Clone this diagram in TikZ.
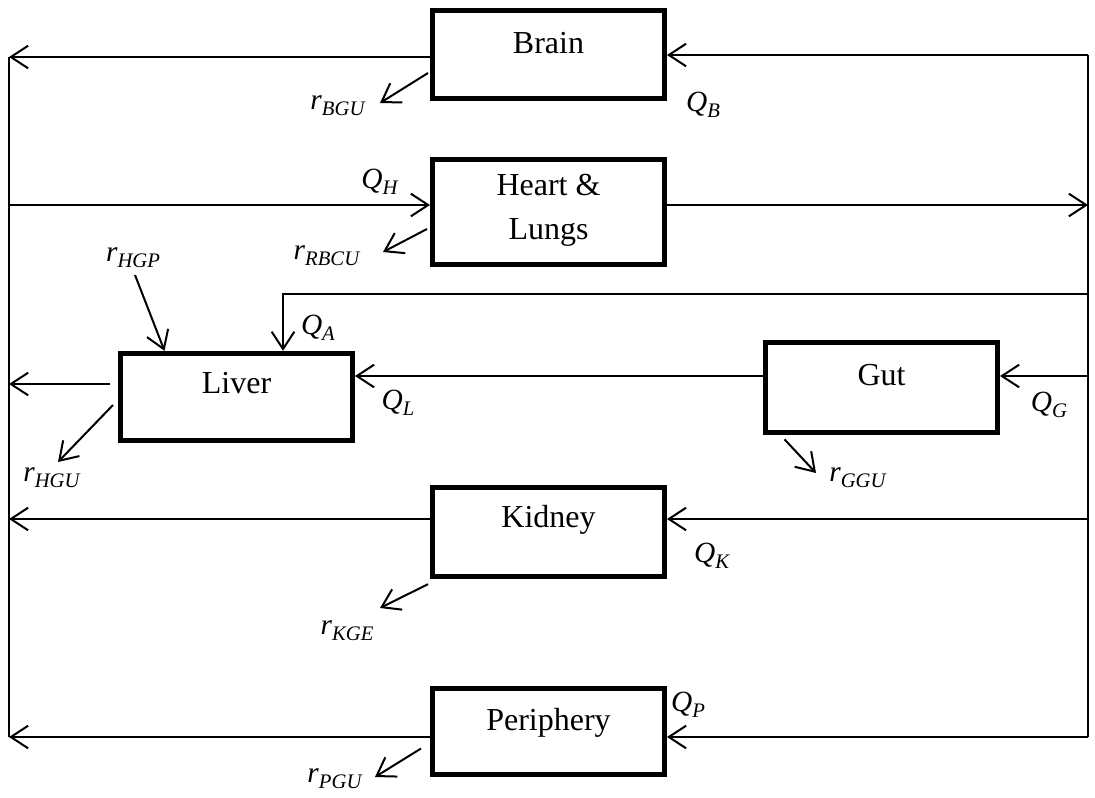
\documentclass[tikz,border=0pt]{standalone}
\usepackage{fontspec}
\setmainfont{Liberation Serif}
\usetikzlibrary{arrows.meta,calc}

\newcommand{\flowlab}[2]{\textit{#1}\raisebox{-4.5pt}{\fontsize{15.5}{18}\selectfont\textit{#2}}}

\tikzset{every picture/.style={line width=1.5pt}}
\tikzset{
  organ/.style={draw, line width=3.75pt, inner sep=0pt, minimum width=174pt, minimum height=66pt},
  organtext/.style={inner sep=0pt, font=\fontsize{24}{33}\selectfont, align=center},
  rate/.style={inner sep=0pt, font=\fontsize{22}{26}\selectfont},
  flow/.style={-{Straight Barb[length=13pt,width=17pt]}},
}

\begin{document}
\begin{tikzpicture}[x=0.75pt,y=0.75pt,yscale=-1,xscale=1]
\useasboundingbox (0,0) rectangle (1095,797);

%Shape: Rectangle [organs]
\node[organ] (brain) at (548.5,54) {};
\node[organ, minimum height=79pt] (heart) at (548.5,212) {};
\node[organ, minimum height=65.5pt] (liver) at (236.5,397) {};
\node[organ, minimum height=68pt] (gut) at (881.5,387.5) {};
\node[organ, minimum height=67pt] (kidney) at (548.5,532) {};
\node[organ, minimum height=65pt] (periphery) at (548.5,731.5) {};

% Text Node
\node[organtext] (braintxt) at ($(brain)+(0,-11)$) {Brain};
\node[organtext] (hearttxt) at ($(heart)+(0,-2)$) {Heart \&\\Lungs};
\node[organtext] (livertxt) at ($(liver)+(0,-14)$) {Liver};
\node[organtext] (guttxt) at ($(gut)+(0,-12)$) {Gut};
\node[organtext] (kidneytxt) at ($(kidney)+(0,-12)$) {Kidney};
\node[organtext] (peripherytxt) at ($(periphery)+(0,-9)$) {Periphery};

%Straight Lines [arterial and venous sides]
\coordinate (lt) at (9,57);
\coordinate (lb) at (9,737);
\coordinate (rt) at (1088,55);
\coordinate (rb) at (1088,737);
\draw (lt) -- (lb);
\draw (rt) -- (rb);

% Connection
\draw[flow] (rt) -- (rt -| brain.east);
\draw[flow] (lt -| brain.west) -- (lt);
% Connection
\coordinate (lH) at (9,205);
\coordinate (rH) at (1088,205);
\draw[flow] (lH) -- (lH -| heart.west);
\draw[flow] (heart.east |- rH) -- (rH);
% Connection
\coordinate (rA) at (1088,294);
\draw[flow] (rA) -| ($(liver.north)+(46.5,0)$);
\coordinate (rG) at (1088,376);
\draw[flow] (rG) -- (rG -| gut.east);
\draw[flow] (rG -| gut.west) -- (rG -| liver.east);
\coordinate (lL) at (9,384);
\draw[flow] ($(lL -| liver.west)+(-8,0)$) -- (lL);
% Connection
\coordinate (rK) at (1088,519);
\coordinate (lK) at (9,519);
\draw[flow] (rK) -- (rK -| kidney.east);
\draw[flow] (lK -| kidney.west) -- (lK);
% Connection
\draw[flow] (rb) -- (rb -| periphery.east);
\draw[flow] (lb -| periphery.west) -- (lb);

% Uptake and production arrows
\coordinate (bgu) at (380,103);
\coordinate (rbcu) at (383,252);
\coordinate (hgp) at (135,275);
\coordinate (hgu) at (58,462);
\coordinate (ggu) at (816,473);
\coordinate (kge) at (380,608);
\coordinate (pgu) at (375,777);
\draw[flow] ($(brain.west)+(-2,19)$) -- (bgu);
\draw[flow] ($(heart.west)+(-3,17)$) -- (rbcu);
\draw[flow] (hgp) -- ($(liver.north)+(-72,0)$);
\draw[flow] ($(liver.west)+(-5,8)$) -- (hgu);
\draw[flow] ($(gut.south)+(-97,4)$) -- (ggu);
\draw[flow] ($(kidney.south west)+(-2,5)$) -- (kge);
\draw[flow] ($(periphery.west)+(-9,17)$) -- (pgu);

% Text Node
\node[rate] (qb) at (703,105) {\flowlab{Q}{B}};
\node[rate] (qh) at (380,182) {\flowlab{Q}{H}};
\node[rate] (qa) at (318,328) {\flowlab{Q}{A}};
\node[rate] (ql) at (398,403) {\flowlab{Q}{L}};
\node[rate] (qg) at (1049,405) {\flowlab{Q}{G}};
\node[rate] (qk) at (712,556) {\flowlab{Q}{K}};
\node[rate] (qp) at (688,705) {\flowlab{Q}{P}};
\node[rate] (rbgulab) at (338,106) {\flowlab{r}{BGU}};
\node[rate] (rrbculab) at (327,256) {\flowlab{r}{RBCU}};
\node[rate] (rhgplab) at (133,258) {\flowlab{r}{HGP}};
\node[rate] (rhgulab) at (52,478) {\flowlab{r}{HGU}};
\node[rate] (rggulab) at (858,478) {\flowlab{r}{GGU}};
\node[rate] (rkgelab) at (347,631) {\flowlab{r}{KGE}};
\node[rate] (rpgulab) at (335,779) {\flowlab{r}{PGU}};

\end{tikzpicture}
\end{document}
